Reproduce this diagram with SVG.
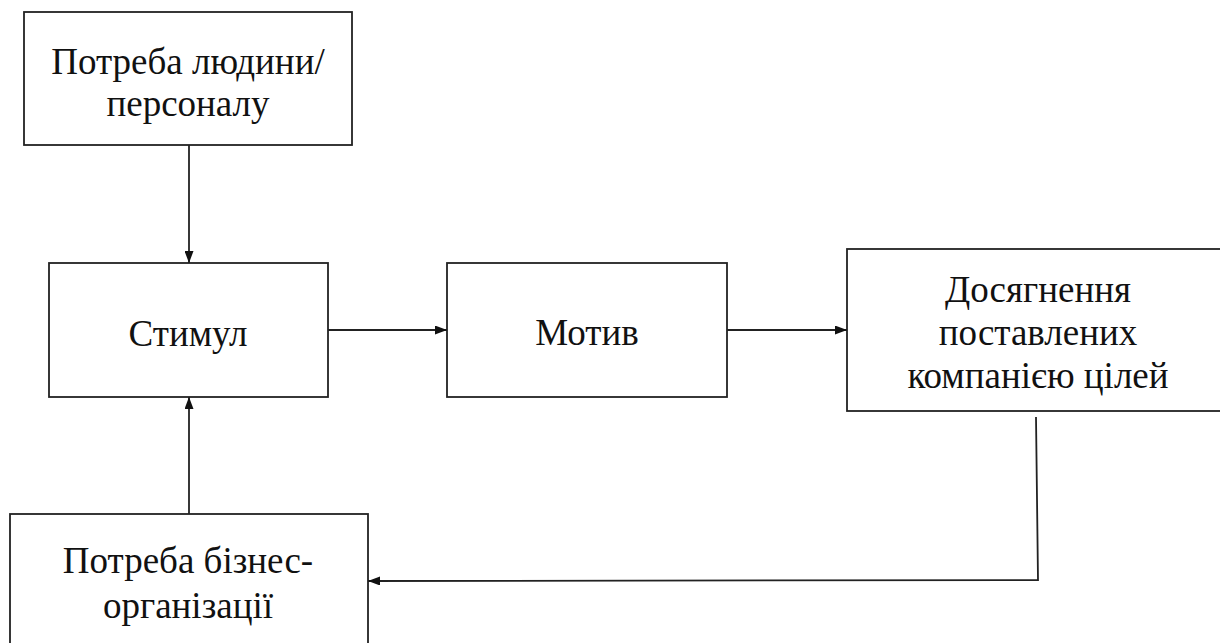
<svg xmlns="http://www.w3.org/2000/svg" width="1220" height="643" viewBox="0 0 1220 643">
<style>
.box{fill:#fff;stroke:#222;stroke-width:1.8}
.c{fill:none;stroke:#222;stroke-width:1.8}
</style>
<defs>
<marker id="ah" viewBox="0 0 12 9" refX="12" refY="4.5" markerWidth="12" markerHeight="9" markerUnits="userSpaceOnUse" orient="auto">
<path d="M0,0 L12,4.5 L0,9 Z" fill="#111"/>
</marker>
</defs>
<rect width="1220" height="643" fill="#fff"/>
<g id="need-person">
<rect class="box" x="24" y="12" width="328" height="133"/>
<text x="188" y="74" font-family="Liberation Serif, Times New Roman, serif" font-size="37" fill="#111" text-anchor="middle">Потреба людини/</text>
<text x="188" y="116" font-family="Liberation Serif, Times New Roman, serif" font-size="37" fill="#111" text-anchor="middle">персоналу</text>
</g>
<g id="stimulus">
<rect class="box" x="49" y="263" width="279" height="134"/>
<text x="188" y="346" font-family="Liberation Serif, Times New Roman, serif" font-size="37" fill="#111" text-anchor="middle">Стимул</text>
</g>
<g id="motive">
<rect class="box" x="447" y="263" width="280" height="134"/>
<text x="587" y="345" font-family="Liberation Serif, Times New Roman, serif" font-size="37" fill="#111" text-anchor="middle">Мотив</text>
</g>
<g id="goals">
<rect class="box" x="847" y="249" width="390" height="162"/>
<text x="1038" y="302" font-family="Liberation Serif, Times New Roman, serif" font-size="37" fill="#111" text-anchor="middle">Досягнення</text>
<text x="1038" y="345" font-family="Liberation Serif, Times New Roman, serif" font-size="37" fill="#111" text-anchor="middle">поставлених</text>
<text x="1038" y="388" font-family="Liberation Serif, Times New Roman, serif" font-size="37" fill="#111" text-anchor="middle">компанією цілей</text>
</g>
<g id="need-business">
<rect class="box" x="10" y="514" width="358" height="150"/>
<text x="188" y="573" font-family="Liberation Serif, Times New Roman, serif" font-size="37" fill="#111" text-anchor="middle">Потреба бізнес-</text>
<text x="188" y="618" font-family="Liberation Serif, Times New Roman, serif" font-size="37" fill="#111" text-anchor="middle">організації</text>
</g>
<g id="connectors">
<line class="c" x1="189" y1="145" x2="189" y2="263" marker-end="url(#ah)"/>
<line class="c" x1="328" y1="330" x2="447" y2="330" marker-end="url(#ah)"/>
<line class="c" x1="727" y1="330" x2="847" y2="330" marker-end="url(#ah)"/>
<line class="c" x1="189" y1="514" x2="189" y2="397" marker-end="url(#ah)"/>
<polyline class="c" points="1036,417 1038,580 368,581" marker-end="url(#ah)"/>
</g>
</svg>
